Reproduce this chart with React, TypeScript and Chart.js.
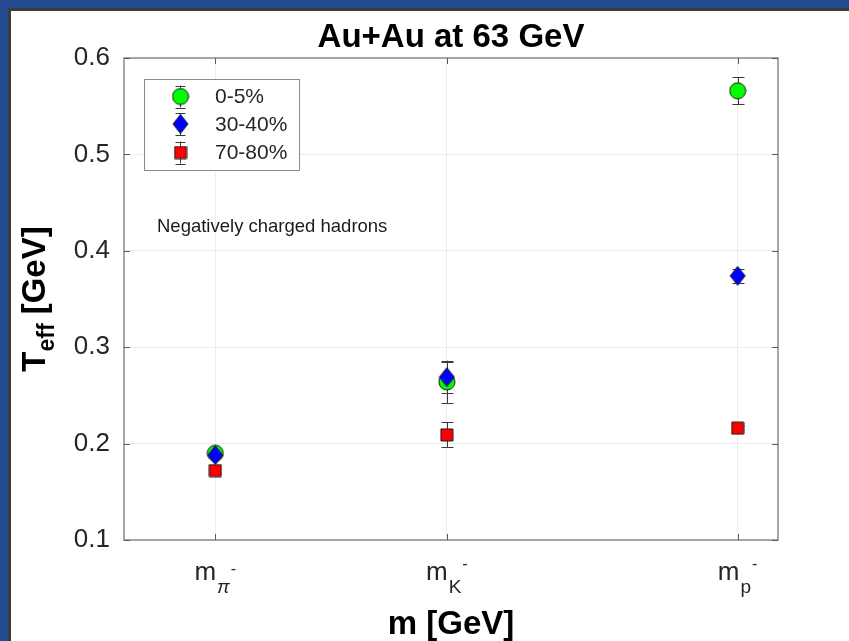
import React, { useEffect, useRef } from "react";
import { Chart, registerables } from "chart.js";

Chart.register(...registerables);

// ---------- data ----------
const massValues = [0.13957, 0.49368, 0.93827]; // GeV: pi-, K-, p-
const massSubscripts = ["π", "K", "p"];
const massSuperscript = "-";
const yTickValues = [0.1, 0.2, 0.3, 0.4, 0.5, 0.6];
const yTickLabels = ["0.1", "0.2", "0.3", "0.4", "0.5", "0.6"];
const seriesLabels = ["0-5%", "30-40%", "70-80%"];
const teff0to5 = [0.19, 0.264, 0.566];
const err0to5 = [0.003, 0.022, 0.014];
const teff30to40 = [0.188, 0.269, 0.374];
const err30to40 = [0.003, 0.016, 0.007];
const teff70to80 = [0.172, 0.209, 0.216];
const err70to80 = [0.002, 0.013, 0.002];
const chartTitle = "Au+Au at 63 GeV";
const xTitle = "m [GeV]";
const yTitleMain = "T";
const yTitleSub = "eff";
const yTitleRest = " [GeV]";
const annotationText = "Negatively charged hadrons";

const FONT = "'Liberation Sans', Arial, Helvetica, sans-serif";
const TEXT = "#262626";

function makeMarker(kind: string, fill: string, w: number, h: number) {
  const c = document.createElement("canvas");
  c.width = w + 2;
  c.height = h + 2;
  const g = c.getContext("2d")!;
  g.fillStyle = fill;
  g.strokeStyle = "#1a1a1a";
  g.lineWidth = 1;
  const cx = c.width / 2;
  const cy = c.height / 2;
  g.beginPath();
  if (kind === "circle") {
    g.arc(cx, cy, w / 2, 0, Math.PI * 2);
  } else if (kind === "diamond") {
    g.moveTo(cx, cy - h / 2);
    g.lineTo(cx + w / 2, cy);
    g.lineTo(cx, cy + h / 2);
    g.lineTo(cx - w / 2, cy);
    g.closePath();
  } else {
    g.rect(cx - w / 2, cy - h / 2, w, h);
  }
  g.fill();
  g.stroke();
  return c;
}

export default function App() {
  const ref = useRef<HTMLCanvasElement | null>(null);

  useEffect(() => {
    const canvas = ref.current;
    if (!canvas) return;

    const markers = [
      makeMarker("circle", "#00ff00", 16, 16),
      makeMarker("diamond", "#0000ff", 15, 19),
      makeMarker("square", "#ff0000", 12, 12),
    ];
    const series = [teff0to5, teff30to40, teff70to80];
    const errors = [err0to5, err30to40, err70to80];

    const errorBars = {
      id: "errorBars",
      beforeDatasetsDraw(chart: any) {
        const { ctx } = chart;
        const xs = chart.scales.x;
        const ys = chart.scales.y;
        ctx.save();
        ctx.strokeStyle = "#3a3a3a";
        ctx.lineWidth = 1;
        series.forEach((vals, di) => {
          vals.forEach((v, i) => {
            const e = errors[di][i];
            const px = Math.round(xs.getPixelForValue(massValues[i])) + 0.5;
            const y1 = ys.getPixelForValue(v - e);
            const y2 = ys.getPixelForValue(v + e);
            ctx.beginPath();
            ctx.moveTo(px, y1);
            ctx.lineTo(px, y2);
            ctx.moveTo(px - 6, Math.round(y1) + 0.5);
            ctx.lineTo(px + 6, Math.round(y1) + 0.5);
            ctx.moveTo(px - 6, Math.round(y2) + 0.5);
            ctx.lineTo(px + 6, Math.round(y2) + 0.5);
            ctx.stroke();
          });
        });
        ctx.restore();
      },
    };

    const decorations = {
      id: "decorations",
      afterDatasetsDraw(chart: any) {
        const { ctx, chartArea } = chart;
        const { left, right, top, bottom } = chartArea;
        const xs = chart.scales.x;
        const ys = chart.scales.y;
        ctx.save();
        // box
        ctx.strokeStyle = "#8a8a8a";
        ctx.lineWidth = 1.5;
        ctx.strokeRect(left, top, right - left, bottom - top);
        // inward ticks
        ctx.strokeStyle = "#5a5a5a";
        ctx.lineWidth = 1;
        ctx.beginPath();
        yTickValues.forEach((v) => {
          const py = Math.round(ys.getPixelForValue(v)) + 0.5;
          ctx.moveTo(left, py);
          ctx.lineTo(left + 6, py);
          ctx.moveTo(right, py);
          ctx.lineTo(right - 6, py);
        });
        massValues.forEach((m) => {
          const px = Math.round(xs.getPixelForValue(m)) + 0.5;
          ctx.moveTo(px, bottom);
          ctx.lineTo(px, bottom - 6);
          ctx.moveTo(px, top);
          ctx.lineTo(px, top + 6);
        });
        ctx.stroke();

        // legend
        const lx = 133, ly = 68, lw = 155, lh = 91;
        ctx.fillStyle = "#ffffff";
        ctx.fillRect(lx, ly, lw, lh);
        ctx.strokeStyle = "#8a8a8a";
        ctx.lineWidth = 1;
        ctx.strokeRect(lx + 0.5, ly + 0.5, lw, lh);
        const rowsY = [85.5, 113, 141.5];
        seriesLabels.forEach((lab, i) => {
          const mx = 169.5;
          const my = rowsY[i];
          ctx.strokeStyle = "#3a3a3a";
          ctx.beginPath();
          ctx.moveTo(mx, my - 11);
          ctx.lineTo(mx, my + 11);
          ctx.moveTo(mx - 5, Math.round(my - 11) + 0.5);
          ctx.lineTo(mx + 5, Math.round(my - 11) + 0.5);
          ctx.moveTo(mx - 5, Math.round(my + 11) + 0.5);
          ctx.lineTo(mx + 5, Math.round(my + 11) + 0.5);
          ctx.stroke();
          const mk = markers[i];
          ctx.drawImage(mk, mx - mk.width / 2, my - mk.height / 2);
          ctx.fillStyle = TEXT;
          ctx.font = `21px ${FONT}`;
          ctx.textAlign = "left";
          ctx.textBaseline = "middle";
          ctx.fillText(lab, 204, my + 1);
        });

        // annotation
        ctx.fillStyle = "#1a1a1a";
        ctx.font = `18.5px ${FONT}`;
        ctx.textAlign = "left";
        ctx.textBaseline = "middle";
        ctx.fillText(annotationText, 146, 216);

        // title
        ctx.fillStyle = "#000000";
        ctx.font = `bold 33px ${FONT}`;
        ctx.textAlign = "center";
        ctx.textBaseline = "middle";
        ctx.fillText(chartTitle, (left + right) / 2, 27);

        // x tick labels: m_{X^-}
        ctx.fillStyle = TEXT;
        ctx.textBaseline = "alphabetic";
        ctx.textAlign = "left";
        massValues.forEach((m, i) => {
          const px = xs.getPixelForValue(m);
          const fM = `26px ${FONT}`;
          const fSub = i === 0 ? `italic 19px ${FONT}` : `19px ${FONT}`;
          const fSup = `16px ${FONT}`;
          ctx.font = fM;
          const wM = ctx.measureText("m").width;
          ctx.font = fSub;
          const wS = ctx.measureText(massSubscripts[i]).width;
          ctx.font = fSup;
          const wP = ctx.measureText(massSuperscript).width;
          const total = wM + 1 + wS + 1 + wP;
          let x0 = px - total / 2;
          ctx.font = fM;
          ctx.fillText("m", x0, 569);
          x0 += wM + 1;
          ctx.font = fSub;
          ctx.fillText(massSubscripts[i], x0, 582);
          x0 += wS + 1;
          ctx.font = fSup;
          ctx.fillText(massSuperscript, x0, i === 0 ? 563 : 558);
        });

        // x title
        ctx.fillStyle = "#000000";
        ctx.font = `bold 33px ${FONT}`;
        ctx.textAlign = "center";
        ctx.textBaseline = "alphabetic";
        ctx.fillText(xTitle, (left + right) / 2, 623);

        // y title (rotated)
        ctx.translate(22, (top + bottom) / 2);
        ctx.rotate(-Math.PI / 2);
        const fBig = `bold 33px ${FONT}`;
        const fSmall = `bold 23px ${FONT}`;
        ctx.font = fBig;
        const wT = ctx.measureText(yTitleMain).width;
        const wR = ctx.measureText(yTitleRest).width;
        ctx.font = fSmall;
        const wE = ctx.measureText(yTitleSub).width;
        const tot = wT + wE + wR;
        let sx = -tot / 2;
        ctx.textAlign = "left";
        ctx.font = fBig;
        ctx.fillText(yTitleMain, sx, 12);
        sx += wT;
        ctx.font = fSmall;
        ctx.fillText(yTitleSub, sx, 21);
        sx += wE;
        ctx.font = fBig;
        ctx.fillText(yTitleRest, sx, 12);

        ctx.restore();
      },
    };

    const chart = new Chart(canvas, {
      type: "scatter",
      data: {
        datasets: series.map((vals, di) => ({
          label: seriesLabels[di],
          data: vals.map((v, i) => ({ x: massValues[i], y: v })),
          pointStyle: markers[di] as any,
          pointRadius: 8,
          showLine: false,
          order: 3 - di,
        })),
      },
      options: {
        responsive: false,
        animation: false,
        devicePixelRatio: 1,
        layout: { padding: { top: 47, right: 71, left: 0, bottom: 0 } },
        plugins: {
          legend: { display: false },
          tooltip: { enabled: false },
          title: { display: false },
        },
        scales: {
          x: {
            type: "linear",
            min: 0,
            max: 1.0,
            afterBuildTicks: (s: any) => {
              s.ticks = massValues.map((v) => ({ value: v }));
            },
            afterFit: (s: any) => {
              s.height = 101;
            },
            ticks: { display: false },
            grid: { color: "#ececec", drawTicks: false },
            border: { display: false },
          },
          y: {
            type: "linear",
            min: 0.1,
            max: 0.6,
            afterBuildTicks: (s: any) => {
              s.ticks = yTickValues.map((v) => ({ value: v }));
            },
            afterFit: (s: any) => {
              s.width = 113;
            },
            ticks: {
              padding: 14,
              color: TEXT,
              font: { size: 26, family: FONT },
              callback: (v: any) => {
                const idx = yTickValues.findIndex((t) => Math.abs(t - Number(v)) < 1e-9);
                return idx >= 0 ? yTickLabels[idx] : "";
              },
            },
            grid: { color: "#ececec", drawTicks: false },
            border: { display: false },
          },
        },
      },
      plugins: [errorBars, decorations],
    });

    return () => chart.destroy();
  }, []);

  return (
    <div
      style={{
        position: "fixed",
        left: 0,
        top: 0,
        width: 849,
        height: 641,
        background: "#234a90",
        overflow: "hidden",
      }}
    >
      <div
        style={{
          position: "absolute",
          left: 8,
          top: 8,
          width: 841,
          height: 633,
          background: "#3c3c3c",
        }}
      />
      <div
        style={{
          position: "absolute",
          left: 11,
          top: 11,
          width: 838,
          height: 630,
          background: "#ffffff",
        }}
      >
        <canvas ref={ref} width={838} height={630} style={{ display: "block" }} />
      </div>
    </div>
  );
}
